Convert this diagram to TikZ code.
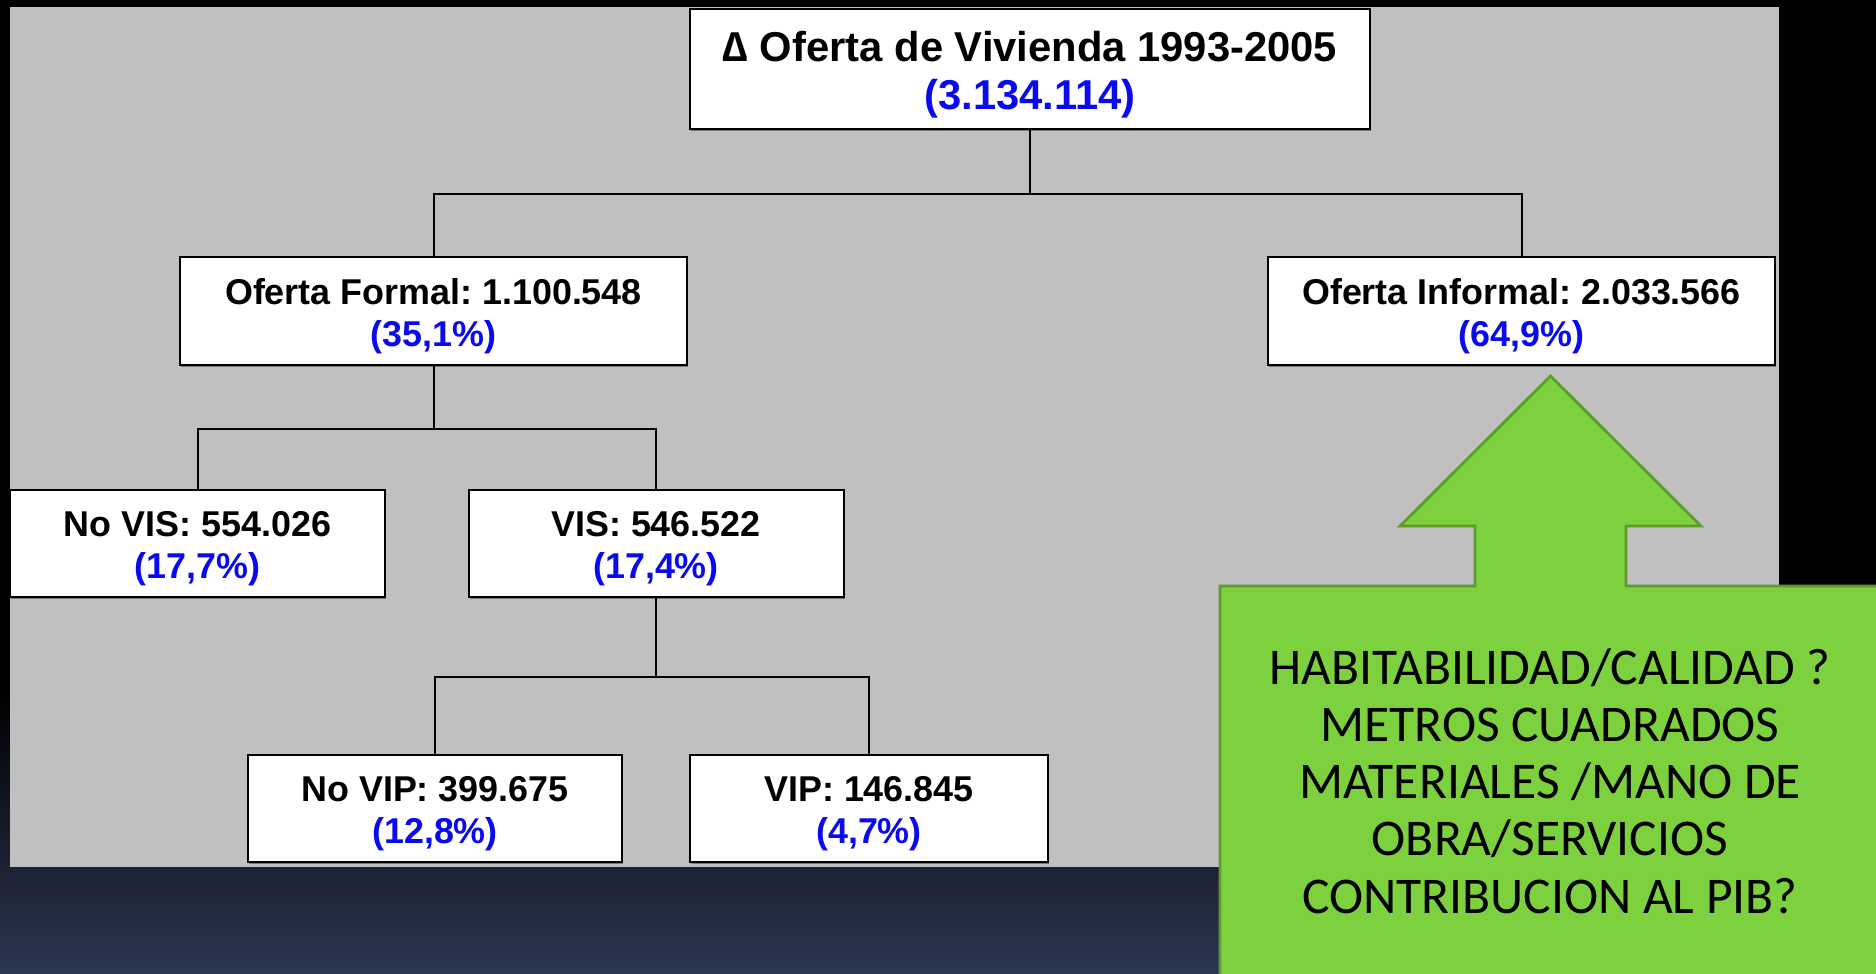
\documentclass[tikz,border=0pt]{standalone}
\usepackage{fontspec}
\setmainfont{Liberation Sans}
\newfontfamily\calib{Carlito}
\usetikzlibrary{calc,shadows}
\definecolor{panelgray}{HTML}{C0C0C0}
\definecolor{navybot}{HTML}{2B3651}
\definecolor{greenfill}{HTML}{7ED13E}
\definecolor{greenline}{HTML}{5E9A2E}
\definecolor{valblue}{HTML}{0A0AF0}
\newcommand{\twolines}[3][2.4pt]{\raisebox{-#1}[\height][\depth]{\begin{tabular}{@{}c@{}}#2\\\textcolor{valblue}{#3}\end{tabular}}}
\tikzset{
  box/.style={draw=black, line width=0.8pt, fill=white, inner sep=0pt,
    font=\bfseries\fontsize{14.35}{16.8}\selectfont,
    drop shadow={shadow xshift=0.5pt, shadow yshift=-0.7pt, fill=black!60, opacity=0.8}},
  wide/.style={minimum width=202.8pt, minimum height=43.2pt},
  mid/.style={minimum width=150pt, minimum height=42.8pt},
  link/.style={line width=0.8pt, draw=black}
}
\frenchspacing
\begin{document}
\begin{tikzpicture}[x=0.4pt,y=-0.4pt]
\useasboundingbox (0,0) rectangle (1876,974);
% slide background
\fill[black] (0,0) rectangle (1876,974);
\shade[top color=black, bottom color=navybot] (0,690) rectangle (1876,974);
% gray panel
\fill[panelgray] (10,7) rectangle (1779,867);
% tree nodes
\node[box, minimum width=272pt, minimum height=48pt, font=\bfseries\fontsize{16.7}{19.2}\selectfont] (root) at (1030,69)
  {\twolines[2.8pt]{∆ Oferta de Vivienda 1993-2005}{(3.134.114)}};
\node[box, wide] (formal) at (433.5,311) {\twolines{Oferta Formal: 1.100.548}{(35,1\%)}};
\node[box, wide] (informal) at (1521.5,311) {\twolines{Oferta Informal: 2.033.566}{(64,9\%)}};
\node[box, mid] (novis) at (197.5,543.5) {\twolines{No VIS: 554.026}{(17,7\%)}};
\node[box, mid] (vis) at (656,543.5) {\twolines{VIS: 546.522}{(17,4\%)}};
\node[box, minimum width=149.6pt, minimum height=42.8pt] (novip) at (435,808.5) {\twolines{No VIP: 399.675}{(12,8\%)}};
\node[box, minimum width=143.2pt, minimum height=42.8pt] (vip) at (869,808.5) {\twolines{VIP: 146.845}{(4,7\%)}};
% connectors
\draw[link] (root.south) -- ++(0,64) -| (formal.north);
\draw[link] (root.south) -- ++(0,64) -| (informal.north);
\draw[link] (formal.south) -- ++(0,62.5) -| (novis.north);
\draw[link] (formal.south) -- ++(0,62.5) -| (vis.north);
\draw[link] (vis.south) -- ++(0,79) -| (novip.north);
\draw[link] (vis.south) -- ++(0,79) -| (vip.north);
% green arrow callout
\filldraw[fill=greenfill, draw=greenline, line width=1.1pt, line join=miter]
  (1220,990) -- (1220,586) -- (1475,586) -- (1475,526) -- (1400,526) -- (1550.5,376)
  -- (1701,526) -- (1626,526) -- (1626,586) -- (1890,586) -- (1890,990) -- cycle;
\node[align=center, inner sep=0pt, font=\calib\fontsize{20.6}{22.9}\selectfont] (note) at (1550,781)
  {HABITABILIDAD/CALIDAD ?\\METROS CUADRADOS\\MATERIALES /MANO DE\\OBRA/SERVICIOS\\CONTRIBUCION AL PIB?};
\end{tikzpicture}
\end{document}
